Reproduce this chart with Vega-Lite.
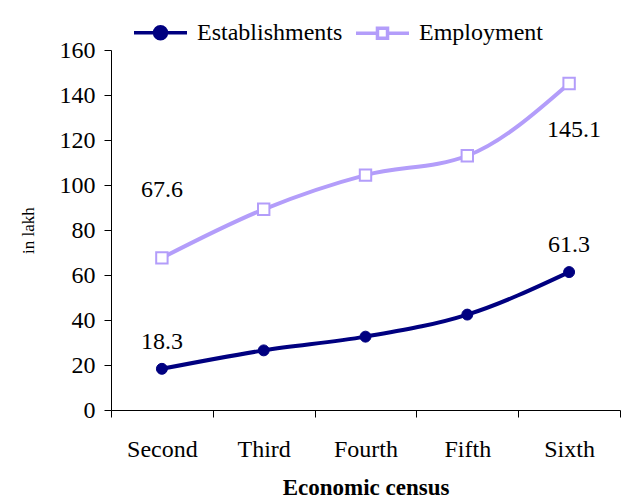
{
  "$schema": "https://vega.github.io/schema/vega-lite/v6.json",
  "width": 509,
  "height": 360,
  "autosize": {"type": "none"},
  "padding": {"left": 111, "top": 50, "right": 5, "bottom": 91},
  "background": "white",
  "config": {
    "view": {"stroke": null},
    "font": "Liberation Serif",
    "axis": {
      "domainColor": "black",
      "tickColor": "black",
      "labelColor": "black",
      "titleColor": "black",
      "labelFont": "Liberation Serif",
      "titleFont": "Liberation Serif",
      "labelFontSize": 24,
      "grid": false
    },
    "legend": {
      "labelFont": "Liberation Serif",
      "labelFontSize": 24,
      "labelColor": "black"
    }
  },
  "data": {
    "values": [
      {"census": "Second", "series": "Establishments", "value": 18.3},
      {"census": "Third", "series": "Establishments", "value": 26.5},
      {"census": "Fourth", "series": "Establishments", "value": 32.6},
      {"census": "Fifth", "series": "Establishments", "value": 42.4},
      {"census": "Sixth", "series": "Establishments", "value": 61.3},
      {"census": "Second", "series": "Employment", "value": 67.6},
      {"census": "Third", "series": "Employment", "value": 89.2},
      {"census": "Fourth", "series": "Employment", "value": 104.4},
      {"census": "Fifth", "series": "Employment", "value": 113.0},
      {"census": "Sixth", "series": "Employment", "value": 145.1}
    ]
  },
  "encoding": {
    "x": {
      "field": "census",
      "type": "nominal",
      "sort": ["Second", "Third", "Fourth", "Fifth", "Sixth"],
      "scale": {"type": "band", "paddingInner": 0, "paddingOuter": 0},
      "axis": {
        "title": "Economic census",
        "titleFontWeight": "bold",
        "titleFontSize": 23,
        "titlePadding": 15,
        "labelAngle": 0,
        "tickBand": "extent",
        "tickSize": 7,
        "labelPadding": 20
      }
    },
    "y": {
      "field": "value",
      "type": "quantitative",
      "scale": {"domain": [0, 160], "nice": false},
      "axis": {
        "title": "in lakh",
        "titleFontWeight": "normal",
        "titleFontSize": 17,
        "titlePadding": 22,
        "values": [0, 20, 40, 60, 80, 100, 120, 140, 160],
        "tickSize": 7,
        "labelPadding": 9
      }
    }
  },
  "layer": [
    {
      "mark": {"type": "line", "strokeWidth": 4, "interpolate": "monotone"},
      "encoding": {
        "color": {
          "field": "series",
          "type": "nominal",
          "scale": {"domain": ["Establishments", "Employment"], "range": ["#000080", "#b39dfa"]},
          "legend": {
            "title": null,
            "orient": "none",
            "direction": "horizontal",
            "legendX": 21,
            "legendY": -46,
            "padding": 0,
            "symbolSize": 2809,
            "symbolStrokeWidth": 4,
            "labelOffset": 8,
            "columnPadding": 6,
            "encode": {
              "symbols": {
                "update": {
                  "shape": {"signal": "datum.value === 'Establishments' ? 'M-1,0L1,0M0.226,0A0.226,0.226,0,1,1,-0.226,0A0.226,0.226,0,1,1,0.226,0Z' : 'M-1,0L-0.19,0M0.19,0L1,0M-0.19,-0.19L0.19,-0.19L0.19,0.19L-0.19,0.19Z'"},
                  "fill": {"signal": "datum.value === 'Establishments' ? '#000080' : '#ffffff'"},
                  "stroke": {"signal": "datum.value === 'Establishments' ? '#000080' : '#b39dfa'"},
                  "strokeWidth": {"value": 3.5},
                  "opacity": {"value": 1},
                  "fillOpacity": {"value": 1}
                }
              }
            }
          }
        }
      }
    },
    {
      "transform": [{"filter": "datum.series === 'Establishments'"}],
      "mark": {"type": "point", "shape": "circle", "filled": true, "fill": "#000080", "stroke": "#000080", "strokeWidth": 1, "opacity": 1, "size": 120}
    },
    {
      "transform": [{"filter": "datum.series === 'Employment'"}],
      "mark": {"type": "point", "shape": "square", "filled": true, "fill": "#ffffff", "stroke": "#b39dfa", "strokeWidth": 2, "opacity": 1, "size": 130}
    },
    {
      "transform": [{"filter": "datum.series === 'Establishments' && (datum.census === 'Second' || datum.census === 'Sixth')"}],
      "mark": {"type": "text", "fontSize": 24, "color": "black", "dy": -27, "baseline": "middle"},
      "encoding": {"text": {"field": "value", "type": "quantitative", "format": ".1f"}}
    },
    {
      "transform": [{"filter": "datum.series === 'Employment' && datum.census === 'Second'"}],
      "mark": {"type": "text", "fontSize": 24, "color": "black", "dy": -68, "baseline": "middle"},
      "encoding": {"text": {"field": "value", "type": "quantitative", "format": ".1f"}}
    },
    {
      "transform": [{"filter": "datum.series === 'Employment' && datum.census === 'Sixth'"}],
      "mark": {"type": "text", "fontSize": 24, "color": "black", "dy": 46, "dx": 5, "baseline": "middle"},
      "encoding": {"text": {"field": "value", "type": "quantitative", "format": ".1f"}}
    }
  ]
}
